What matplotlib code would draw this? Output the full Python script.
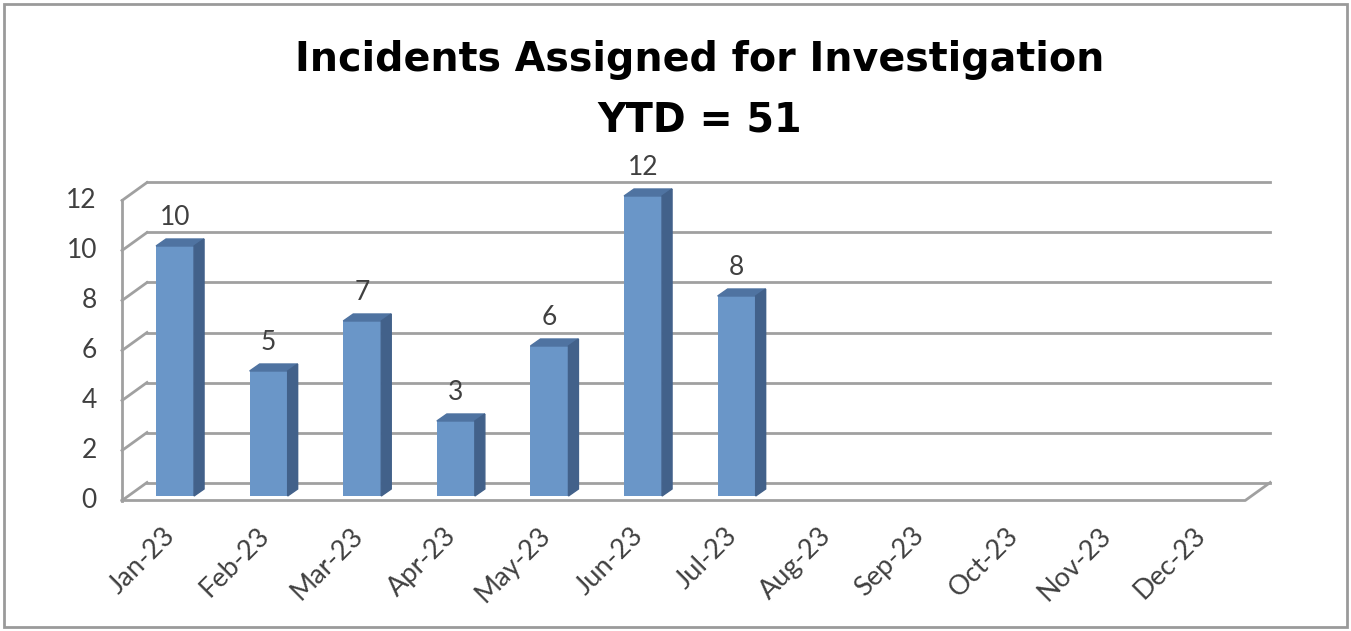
import numpy as np
import matplotlib.pyplot as plt
from matplotlib.patches import Polygon, Rectangle

plt.rcParams['font.family'] = ['Lato', 'DejaVu Sans']

# data
months = ['Jan-23', 'Feb-23', 'Mar-23', 'Apr-23', 'May-23', 'Jun-23',
          'Jul-23', 'Aug-23', 'Sep-23', 'Oct-23', 'Nov-23', 'Dec-23']
counts = [10, 5, 7, 3, 6, 12, 8]
yticks = [0, 2, 4, 6, 8, 10, 12]
title = 'Incidents Assigned for Investigation\nYTD = 51'

W, H = 1351, 631
fig = plt.figure(figsize=(W / 100, H / 100), dpi=100)
ax = fig.add_axes([0, 0, 1, 1])

# pixel layout of the chart plane (front floor)
x0_px, sx = 122, 93.6      # px of category 0, px per category
y0_px, sy = 500.5, 25.0    # px of value 0, px per unit
ax.set_xlim(-x0_px / sx, (W - x0_px) / sx)
ax.set_ylim((y0_px - H) / sy, y0_px / sy)
ax.axis('off')

# depth offset of the back wall
DX, DY = 25 / sx, 18 / sy
grid_c = '#a0a0a0'
n = len(months)

# back wall grid + left wall
for t in yticks:
    ax.plot([DX, n + DX], [t + DY, t + DY], color=grid_c, lw=2, zorder=1)
    ax.plot([0, DX], [t, t + DY], color=grid_c, lw=2, zorder=1)
ax.plot([0, 0], [0, yticks[-1]], color=grid_c, lw=2, zorder=1)
# front floor edge
ax.plot([0, n, n + DX], [0, 0, DY], color=grid_c, lw=2, zorder=1)

# bars (pseudo 3D)
front_c, top_c, side_c = '#6a96c8', '#4f73a1', '#42618a'
f = 0.25                       # depth position of the bar front
ox, oy = f * DX, f * DY
bw = 38 / sx
bdx, bdy = 10 / sx, 7 / sy
xs = np.arange(len(counts)) + 0.5 + ox
ax.bar(xs, counts, width=bw, bottom=oy, color=front_c, zorder=3)
for x, v in zip(xs, counts):
    l, r = x - bw / 2, x + bw / 2
    top = v + oy
    ax.add_patch(Polygon([(l, top), (r, top), (r + bdx, top + bdy), (l + bdx, top + bdy)],
                         closed=True, color=top_c, zorder=3))
    ax.add_patch(Polygon([(r, oy), (r + bdx, oy + bdy), (r + bdx, top + bdy), (r, top)],
                         closed=True, color=side_c, zorder=3))
    ax.text(x, top + bdy + 0.35, str(v), ha='center', va='bottom',
            fontsize=19, color='#404040', zorder=4)

# y tick labels
for t in yticks:
    ax.text(-25 / sx, t, str(t), ha='right', va='center', fontsize=19, color='#404040')

# category labels
for i, m in enumerate(months):
    ax.text(i + 0.53, -1.25, m, rotation=45, rotation_mode='anchor',
            ha='right', va='center', fontsize=19.5, color='#404040')

fig.text(700 / W, 1 - 90 / H, title, ha='center', va='center', fontsize=28.5,
         fontweight='bold', family='DejaVu Sans', color='black', linespacing=1.67)

fig.patches.append(Rectangle((4 / W, 4 / H), 1 - 8 / W, 1 - 8 / H, transform=fig.transFigure,
                             fill=False, edgecolor='#9a9a9a', lw=2))

fig.savefig('out.png', dpi=100)
